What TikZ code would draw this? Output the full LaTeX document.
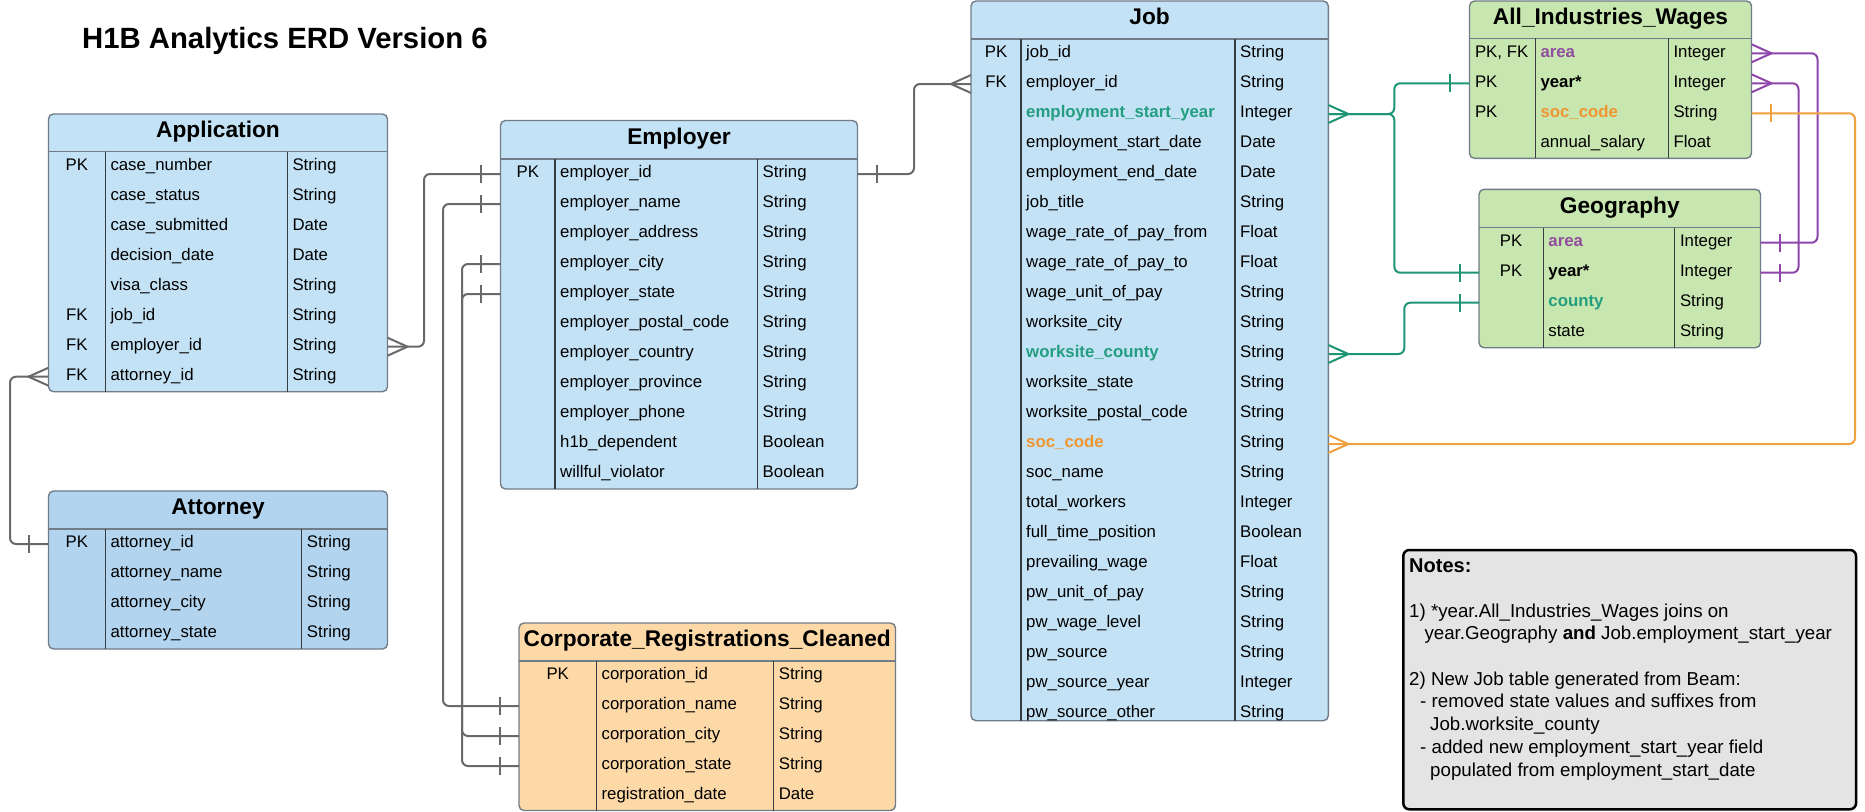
\documentclass[tikz,border=0pt]{standalone}
\usepackage{fontspec}
\setmainfont{Liberation Sans}
\usetikzlibrary{calc}

\definecolor{bluefill}{RGB}{196,226,245}
\definecolor{attfill}{RGB}{178,212,238}
\definecolor{orgfill}{RGB}{253,217,168}
\definecolor{grnfill}{RGB}{200,230,175}
\definecolor{notefill}{RGB}{228,228,228}
\definecolor{tbledge}{RGB}{112,124,136}
\definecolor{coldiv}{RGB}{55,60,65}
\definecolor{glinec}{RGB}{105,105,105}
\definecolor{tealc}{RGB}{30,150,118}
\definecolor{purplec}{RGB}{142,70,170}
\definecolor{orangec}{RGB}{240,160,60}
\definecolor{tealtxt}{RGB}{36,158,128}
\definecolor{purpletxt}{RGB}{145,78,160}
\definecolor{orangetxt}{RGB}{238,150,50}

\tikzset{
  tbl/.style={draw=tbledge, line width=1.4pt, rounded corners=5pt},
  hsep/.style={draw=tbledge, line width=1.4pt},
  csep/.style={draw=coldiv, line width=1.1pt},
  hdr/.style={font=\fontsize{22.7}{26}\selectfont\bfseries, anchor=base, inner sep=0pt},
  cell/.style={font=\fontsize{16.8}{20}\selectfont, anchor=base west, inner sep=0pt},
  keyc/.style={font=\fontsize{16.8}{20}\selectfont, anchor=base, inner sep=0pt},
  rowbox/.style={inner sep=0pt, outer sep=0pt, minimum height=30pt},
  titletxt/.style={font=\fontsize{29.3}{33}\selectfont\bfseries, anchor=base west, inner sep=0pt},
  notetxt/.style={font=\fontsize{18.7}{22.7}\selectfont, anchor=base west, inner sep=0pt},
  notebox/.style={draw=black, line width=2.5pt, fill=notefill, rounded corners=6pt},
  gcon/.style={draw=glinec, line width=2pt, rounded corners=6pt},
  tcon/.style={draw=tealc, line width=2pt, rounded corners=6pt},
  pcon/.style={draw=purplec, line width=2pt, rounded corners=6pt},
  ocon/.style={draw=orangec, line width=2pt, rounded corners=6pt},
  gend/.style={draw=glinec, line width=2pt},
  tend/.style={draw=tealc, line width=2pt},
  pend/.style={draw=purplec, line width=2pt},
  oend/.style={draw=orangec, line width=2pt},
}

% #1 L, #2 T, #3 H, #4 R, #5 B, #6 c1, #7 c2, #8 fill
\newcommand\etable[8]{%
  \draw[tbl, fill=#8] (#1,#2) rectangle (#4,#5);
  \draw[hsep] (#1,#3) -- (#4,#3);
  \draw[csep] (#6,#3) -- (#6,#5);
  \draw[csep] (#7,#3) -- (#7,#5);
  \def\hy{#3}%
  \pgfmathsetmacro\tw{#4-#1}%
  \pgfmathsetmacro\tc{(#1+#4)/2}%
  \pgfmathsetmacro\nx{#6+5}%
  \pgfmathsetmacro\tx{#7+5}%
  \pgfmathsetmacro\kx{(#1+#6)/2}%
  \pgfmathsetmacro\hb{(#2+#3)/2+4.5}%
}
% #1 prefix, #2 index, #3 key, #4 field, #5 type
\newcommand\erow[5]{%
  \pgfmathsetmacro\ry{\hy+15+30*#2}%
  \node[rowbox, minimum width=\tw pt] (#1-#2) at (\tc,\ry) {};
  \node[keyc] (#1-#2-k) at (\kx,\ry+3.8) {#3};
  \node[cell] (#1-#2-n) at (\nx,\ry+3.8) {#4};
  \node[cell] (#1-#2-t) at (\tx,\ry+3.8) {#5};
}
\newcommand\crowft[3]{\draw[#3] ($(#1)+(0,-9)$) -- ($(#1)+({#2*20},0)$) -- ($(#1)+(0,9)$);}
\newcommand\onebar[3]{\draw[#3] ($(#1)+({#2*19.5},-9)$) -- ($(#1)+({#2*19.5},9)$);}

\begin{document}
\begin{tikzpicture}[x=1pt,y=-1pt]
\path[fill=white] (0,0) rectangle (1865,811);
\useasboundingbox (0,0) rectangle (1865,811);

\node[titletxt] (title) at (82,48) {H1B Analytics ERD Version 6};

% ---------- Application ----------
\begin{scope}
\etable{48.5}{114}{151.7}{387.5}{391.7}{105.3}{287.3}{bluefill}
\node[hdr] (app) at (\tc,\hb) {Application};
\erow{app}{0}{PK}{case\_number}{String}
\erow{app}{1}{}{case\_status}{String}
\erow{app}{2}{}{case\_submitted}{Date}
\erow{app}{3}{}{decision\_date}{Date}
\erow{app}{4}{}{visa\_class}{String}
\erow{app}{5}{FK}{job\_id}{String}
\erow{app}{6}{FK}{employer\_id}{String}
\erow{app}{7}{FK}{attorney\_id}{String}
\end{scope}

% ---------- Attorney ----------
\begin{scope}
\etable{48.5}{491}{529}{387.5}{649}{105.3}{301.7}{attfill}
\node[hdr] (att) at (\tc,\hb) {Attorney};
\erow{att}{0}{PK}{attorney\_id}{String}
\erow{att}{1}{}{attorney\_name}{String}
\erow{att}{2}{}{attorney\_city}{String}
\erow{att}{3}{}{attorney\_state}{String}
\end{scope}

% ---------- Employer ----------
\begin{scope}
\etable{500.5}{120.5}{159}{857.5}{489}{555}{757.5}{bluefill}
\node[hdr] (emp) at (\tc,\hb) {Employer};
\erow{emp}{0}{PK}{employer\_id}{String}
\erow{emp}{1}{}{employer\_name}{String}
\erow{emp}{2}{}{employer\_address}{String}
\erow{emp}{3}{}{employer\_city}{String}
\erow{emp}{4}{}{employer\_state}{String}
\erow{emp}{5}{}{employer\_postal\_code}{String}
\erow{emp}{6}{}{employer\_country}{String}
\erow{emp}{7}{}{employer\_province}{String}
\erow{emp}{8}{}{employer\_phone}{String}
\erow{emp}{9}{}{h1b\_dependent}{Boolean}
\erow{emp}{10}{}{willful\_violator}{Boolean}
\end{scope}

% ---------- Corporate_Registrations_Cleaned ----------
\begin{scope}
\etable{519}{623}{661}{895.5}{810.5}{596.4}{773.6}{orgfill}
\node[hdr] (crp) at (\tc,\hb) {Corporate\_Registrations\_Cleaned};
\erow{crp}{0}{PK}{corporation\_id}{String}
\erow{crp}{1}{}{corporation\_name}{String}
\erow{crp}{2}{}{corporation\_city}{String}
\erow{crp}{3}{}{corporation\_state}{String}
\erow{crp}{4}{}{registration\_date}{Date}
\end{scope}

% ---------- Job ----------
\begin{scope}
\etable{971}{1}{39}{1328.3}{720.7}{1021}{1235}{bluefill}
\node[hdr] (job) at (\tc,\hb) {Job};
\clip (971,39) rectangle (1328.3,720.7);
\erow{job}{0}{PK}{job\_id}{String}
\erow{job}{1}{FK}{employer\_id}{String}
\erow{job}{2}{}{\textcolor{tealtxt}{\bfseries employment\_start\_year}}{Integer}
\erow{job}{3}{}{employment\_start\_date}{Date}
\erow{job}{4}{}{employment\_end\_date}{Date}
\erow{job}{5}{}{job\_title}{String}
\erow{job}{6}{}{wage\_rate\_of\_pay\_from}{Float}
\erow{job}{7}{}{wage\_rate\_of\_pay\_to}{Float}
\erow{job}{8}{}{wage\_unit\_of\_pay}{String}
\erow{job}{9}{}{worksite\_city}{String}
\erow{job}{10}{}{\textcolor{tealtxt}{\bfseries worksite\_county}}{String}
\erow{job}{11}{}{worksite\_state}{String}
\erow{job}{12}{}{worksite\_postal\_code}{String}
\erow{job}{13}{}{\textcolor{orangetxt}{\bfseries soc\_code}}{String}
\erow{job}{14}{}{soc\_name}{String}
\erow{job}{15}{}{total\_workers}{Integer}
\erow{job}{16}{}{full\_time\_position}{Boolean}
\erow{job}{17}{}{prevailing\_wage}{Float}
\erow{job}{18}{}{pw\_unit\_of\_pay}{String}
\erow{job}{19}{}{pw\_wage\_level}{String}
\erow{job}{20}{}{pw\_source}{String}
\erow{job}{21}{}{pw\_source\_year}{Integer}
\erow{job}{22}{}{pw\_source\_other}{String}
\end{scope}

% ---------- All_Industries_Wages ----------
\begin{scope}
\tikzset{keyc/.style={cell}}
\etable{1469.5}{1}{38.3}{1751.5}{158.3}{1535.3}{1668.3}{grnfill}
\def\kx{1474.8}
\node[hdr] (aiw) at (\tc,\hb) {All\_Industries\_Wages};
\erow{aiw}{0}{PK, FK}{\textcolor{purpletxt}{\bfseries area}}{Integer}
\erow{aiw}{1}{PK}{\bfseries year*}{Integer}
\erow{aiw}{2}{PK}{\textcolor{orangetxt}{\bfseries soc\_code}}{String}
\erow{aiw}{3}{}{annual\_salary}{Float}
\end{scope}

% ---------- Geography ----------
\begin{scope}
\etable{1479}{189.3}{227.7}{1760.5}{347.7}{1543.2}{1674.8}{grnfill}
\node[hdr] (geo) at (\tc,\hb) {Geography};
\erow{geo}{0}{PK}{\textcolor{purpletxt}{\bfseries area}}{Integer}
\erow{geo}{1}{PK}{\bfseries year*}{Integer}
\erow{geo}{2}{}{\textcolor{tealtxt}{\bfseries county}}{String}
\erow{geo}{3}{}{state}{String}
\end{scope}

% ---------- Connectors ----------
% Application -> Employer
\draw[gcon] (app-6.east) -- ++(36.5,0) |- (emp-0.west);
\crowft{app-6.east}{1}{gend}
\onebar{emp-0.west}{-1}{gend}
% Application -> Attorney
\draw[gcon] (app-7.west) -- ++(-38.5,0) |- (att-0.west);
\crowft{app-7.west}{-1}{gend}
\onebar{att-0.west}{-1}{gend}
% Employer -> Corporate
\draw[gcon] (emp-1.west) -- ++(-57.5,0) |- (crp-1.west);
\draw[gcon] (emp-3.west) -- ++(-38.5,0) |- (crp-2.west);
\draw[gcon] (emp-4.west) -- ++(-38.5,0) |- (crp-3.west);
\onebar{emp-1.west}{-1}{gend}
\onebar{emp-3.west}{-1}{gend}
\onebar{emp-4.west}{-1}{gend}
\onebar{crp-1.west}{-1}{gend}
\onebar{crp-2.west}{-1}{gend}
\onebar{crp-3.west}{-1}{gend}
% Employer -> Job
\draw[gcon] (emp-0.east) -- ++(56.5,0) |- (job-1.west);
\onebar{emp-0.east}{1}{gend}
\crowft{job-1.west}{-1}{gend}
% Job -> All_Industries_Wages / Geography (year)
\draw[tcon] (job-2.east) -- ++(66,0) |- (aiw-1.west);
\draw[tcon] (job-2.east) -- ++(66,0) |- (geo-1.west);
\crowft{job-2.east}{1}{tend}
\onebar{aiw-1.west}{-1}{tend}
\onebar{geo-1.west}{-1}{tend}
% Job -> Geography (county)
\draw[tcon] (job-10.east) -- ++(76,0) |- (geo-2.west);
\crowft{job-10.east}{1}{tend}
\onebar{geo-2.west}{-1}{tend}
% All_Industries_Wages -> Geography (area, year)
\draw[pcon] (aiw-0.east) -- ++(66,0) |- (geo-0.east);
\crowft{aiw-0.east}{1}{pend}
\onebar{geo-0.east}{1}{pend}
\draw[pcon] (aiw-1.east) -- ++(47,0) |- (geo-1.east);
\crowft{aiw-1.east}{1}{pend}
\onebar{geo-1.east}{1}{pend}
% All_Industries_Wages -> Job (soc_code)
\draw[ocon] (aiw-2.east) -- ++(103.5,0) |- (job-13.east);
\onebar{aiw-2.east}{1}{oend}
\crowft{job-13.east}{1}{oend}

% ---------- Notes ----------
\draw[notebox] (1403.3,550) rectangle (1856,809.3);
\node[notetxt, font=\fontsize{20}{24}\selectfont\bfseries] (notes-1) at (1409,572) {Notes:};
\node[notetxt] (notes-2) at (1409,617.1) {1) *year.All\_Industries\_Wages joins on};
\node[notetxt] (notes-3) at (1424.3,639.8) {year.Geography \textbf{and} Job.employment\_start\_year};
\node[notetxt] (notes-4) at (1409,685.2) {2) New Job table generated from Beam:};
\node[notetxt] (notes-5) at (1420,707.9) {- removed state values and suffixes from};
\node[notetxt] (notes-6) at (1430,730.6) {Job.worksite\_county};
\node[notetxt] (notes-7) at (1420,753.3) {- added new employment\_start\_year field};
\node[notetxt] (notes-8) at (1430,776) {populated from employment\_start\_date};
\end{tikzpicture}
\end{document}
